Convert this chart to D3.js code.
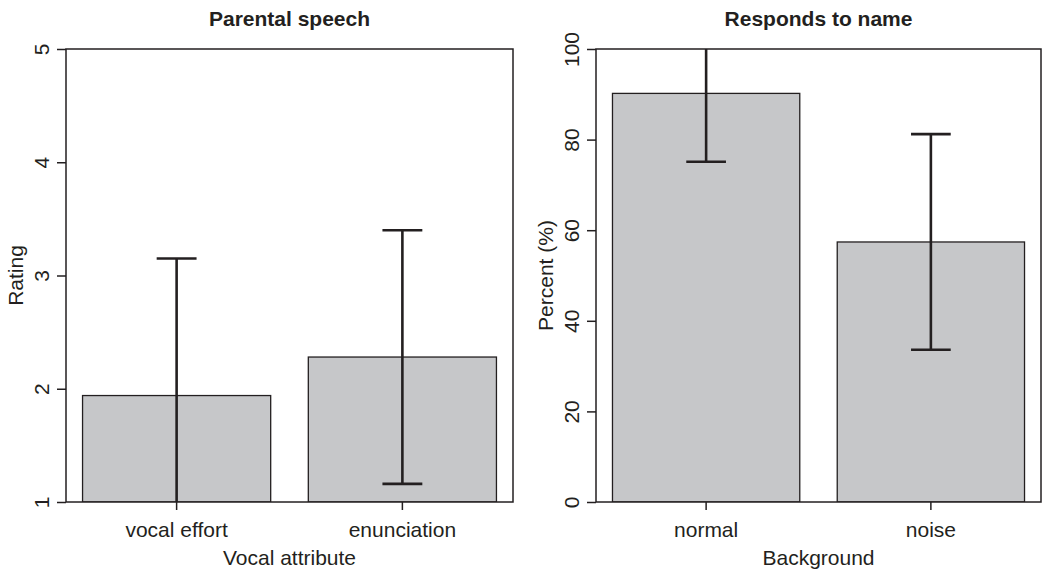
<!DOCTYPE html>
<html>
<head>
<meta charset="utf-8">
<script src="https://cdn.jsdelivr.net/npm/d3@7"></script>
<style>
  html, body { margin: 0; padding: 0; background: #fff; }
  svg { display: block; }
  text { font-family: "Liberation Sans", Arial, Helvetica, sans-serif; fill: #231f20; }
</style>
</head>
<body>
<svg id="chart" width="1042" height="579"></svg>
<script>
// ---- Data ----
const leftTitle = "Parental speech";
const leftXLabel = "Vocal attribute";
const leftYLabel = "Rating";
const leftCategories = ["vocal effort", "enunciation"];
const leftMeans = [1.94, 2.28];
const leftErrors = [1.21, 1.12];
const leftYTicks = [1, 2, 3, 4, 5];
const leftYDomain = [1, 5];

const rightTitle = "Responds to name";
const rightXLabel = "Background";
const rightYLabel = "Percent (%)";
const rightCategories = ["normal", "noise"];
const rightMeans = [90.2, 57.4];
const rightErrors = [15.1, 23.8];
const rightYTicks = [0, 20, 40, 60, 80, 100];
const rightYDomain = [0, 100];

// ---- Styles ----
const ink = "#231f20";
const barFill = "#c6c7c9";
const fontSize = 21;

const svg = d3.select("#chart");

function panel(opts) {
  const { id, x0, x1, y0, y1, title, xLabel, yLabel, categories, means, errors, yTicks, yDomain } = opts;
  const g = svg.append("g");

  const x = d3.scaleBand()
    .domain(categories)
    .range([x0, x1])
    .paddingInner(1 / 6)
    .paddingOuter(0.0733);

  const y = d3.scaleLinear().domain(yDomain).range([y1, y0]);

  // clip
  svg.append("defs").append("clipPath").attr("id", "clip-" + id)
    .append("rect").attr("x", x0).attr("y", y0).attr("width", x1 - x0).attr("height", y1 - y0);

  const rows = categories.map((c, i) => ({ c, m: means[i], e: errors[i] }));

  const plot = g.append("g").attr("clip-path", `url(#clip-${id})`);

  // bars
  plot.selectAll("rect.bar").data(rows).join("rect")
    .attr("class", "bar")
    .attr("x", d => x(d.c))
    .attr("width", x.bandwidth())
    .attr("y", d => y(d.m))
    .attr("height", d => y(yDomain[0]) - y(d.m))
    .attr("fill", barFill)
    .attr("stroke", ink)
    .attr("stroke-width", 1.3);

  // error bars
  const capHalf = x.bandwidth() * 0.106;
  const eb = plot.selectAll("g.eb").data(rows).join("g").attr("class", "eb");
  eb.append("line")
    .attr("x1", d => x(d.c) + x.bandwidth() / 2)
    .attr("x2", d => x(d.c) + x.bandwidth() / 2)
    .attr("y1", d => y(d.m - d.e))
    .attr("y2", d => y(d.m + d.e))
    .attr("stroke", ink).attr("stroke-width", 2.6);
  eb.append("line")
    .attr("x1", d => x(d.c) + x.bandwidth() / 2 - capHalf)
    .attr("x2", d => x(d.c) + x.bandwidth() / 2 + capHalf)
    .attr("y1", d => y(d.m + d.e))
    .attr("y2", d => y(d.m + d.e))
    .attr("stroke", ink).attr("stroke-width", 2.6);
  eb.append("line")
    .attr("x1", d => x(d.c) + x.bandwidth() / 2 - capHalf)
    .attr("x2", d => x(d.c) + x.bandwidth() / 2 + capHalf)
    .attr("y1", d => y(d.m - d.e))
    .attr("y2", d => y(d.m - d.e))
    .attr("stroke", ink).attr("stroke-width", 2.6);

  // box
  g.append("rect")
    .attr("x", x0).attr("y", y0)
    .attr("width", x1 - x0).attr("height", y1 - y0)
    .attr("fill", "none").attr("stroke", ink).attr("stroke-width", 1.5);

  // y axis
  const yAxis = d3.axisLeft(y).tickValues(yTicks).tickFormat(d3.format("d"))
    .tickSize(9).tickPadding(2).tickSizeOuter(0);
  const ya = g.append("g").attr("transform", `translate(${x0},0)`).call(yAxis);
  ya.select(".domain").remove();
  ya.selectAll(".tick line").attr("stroke", ink).attr("stroke-width", 1.5);
  ya.selectAll(".tick text")
    .attr("x", null).attr("dy", null)
    .attr("text-anchor", "middle")
    .attr("transform", "translate(-17,0) rotate(-90)")
    .attr("font-size", fontSize)
    .attr("font-family", "Liberation Sans, Arial, sans-serif")
    .attr("fill", ink);

  // x axis
  const xAxis = d3.axisBottom(x).tickSize(8).tickSizeOuter(0).tickPadding(0);
  const xa = g.append("g").attr("transform", `translate(0,${y1})`).call(xAxis);
  xa.select(".domain").remove();
  xa.selectAll(".tick line").attr("stroke", ink).attr("stroke-width", 1.5);
  xa.selectAll(".tick text")
    .attr("y", 35).attr("dy", null)
    .attr("font-size", fontSize)
    .attr("font-family", "Liberation Sans, Arial, sans-serif")
    .attr("fill", ink);

  const cx = (x0 + x1) / 2;
  const cy = (y0 + y1) / 2;

  // title
  g.append("text").attr("x", cx).attr("y", 26)
    .attr("text-anchor", "middle").attr("font-weight", "bold")
    .attr("font-size", fontSize).text(title);

  // x label
  g.append("text").attr("x", cx).attr("y", 565)
    .attr("text-anchor", "middle").attr("font-size", fontSize).text(xLabel);

  // y label
  g.append("text")
    .attr("transform", `translate(${x0 - 43},${cy}) rotate(-90)`)
    .attr("text-anchor", "middle").attr("font-size", fontSize).text(yLabel);
}

panel({
  id: "left", x0: 66, x1: 513, y0: 49, y1: 502,
  title: leftTitle, xLabel: leftXLabel, yLabel: leftYLabel,
  categories: leftCategories, means: leftMeans, errors: leftErrors,
  yTicks: leftYTicks, yDomain: leftYDomain
});

panel({
  id: "right", x0: 596, x1: 1041, y0: 49, y1: 502,
  title: rightTitle, xLabel: rightXLabel, yLabel: rightYLabel,
  categories: rightCategories, means: rightMeans, errors: rightErrors,
  yTicks: rightYTicks, yDomain: rightYDomain
});
</script>
</body>
</html>
